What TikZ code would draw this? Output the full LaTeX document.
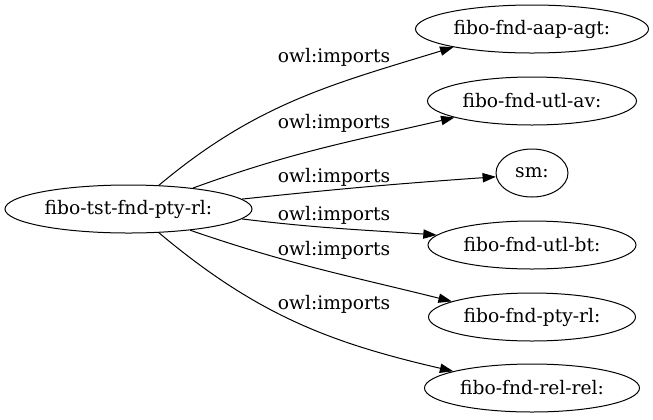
\documentclass[tikz,border=0pt]{standalone}
\usepackage{fontspec}
\setmainfont{DejaVu Serif}
\usetikzlibrary{shapes.geometric,arrows.meta}
\begin{document}
\begin{tikzpicture}[x=0.75pt,y=0.75pt,
  font=\fontsize{14}{17}\selectfont,
  onto/.style={ellipse,draw,line width=0.75pt,inner sep=0pt,minimum height=36pt},
  imp/.style={draw,line width=0.75pt,-{Triangle[length=10pt,width=7pt]}},
  lbl/.style={inner sep=0pt}]
\useasboundingbox (0,0) rectangle (653,-419);

% ontology nodes
\node[onto,minimum width=185.25pt] (src) at (128.5,-209) {fibo-tst-fnd-pty-rl:};
\node[onto,minimum width=174.75pt] (aap) at (532,-29)  {fibo-fnd-aap-agt:};
\node[onto,minimum width=156.75pt] (av)  at (532,-101) {fibo-fnd-utl-av:};
\node[onto,minimum width=54pt]     (sm)  at (532,-173) {sm:};
\node[onto,minimum width=156pt]    (bt)  at (532,-245) {fibo-fnd-utl-bt:};
\node[onto,minimum width=155.25pt] (rl)  at (532,-317) {fibo-fnd-pty-rl:};
\node[onto,minimum width=161.25pt] (rel) at (532,-388) {fibo-fnd-rel-rel:};

% import edges
\draw[imp] (src.38)  to[out=40,in=197]  (aap.193);
\draw[imp] (src.18)  to[out=20,in=193]  (av.192);
\draw[imp] (src.5)   to[out=6,in=184]   (sm.186);
\draw[imp] (src.-5)  to[out=-7,in=176]  (bt.174.5);
\draw[imp] (src.-19) to[out=-19,in=166] (rl.169);
\draw[imp] (src.-38) to[out=-40,in=167] (rel.168);

% edge labels
\node[lbl] (l1) at (334,-57.5) {owl:imports};
\node[lbl] (l2) at (334,-123)  {owl:imports};
\node[lbl] (l3) at (334,-177.5) {owl:imports};
\node[lbl] (l4) at (334,-215)  {owl:imports};
\node[lbl] (l5) at (334,-250)  {owl:imports};
\node[lbl] (l6) at (334,-304)  {owl:imports};
\end{tikzpicture}
\end{document}
